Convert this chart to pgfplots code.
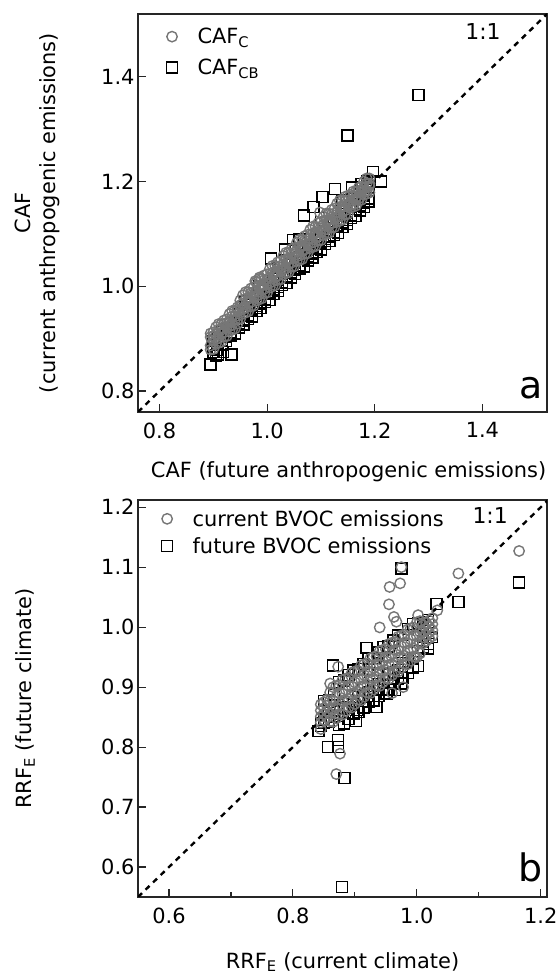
\documentclass[border=0pt]{standalone}
\usepackage{pgfplots}
\usepackage{pgfplotstable}
\pgfplotsset{compat=1.18}
\usepackage{fontspec}
\setmainfont{DejaVu Sans}
\definecolor{circgray}{HTML}{767676}
% panel a, CAF_C (circles): x and four y values per x
\pgfplotstableread[row sep=\\]{
x a b c d\\
0.895 0.879 0.887 0.903 0.910\\
0.900 0.880 0.897 0.905 0.912\\
0.905 0.890 0.899 0.908 0.922\\
0.910 0.892 0.901 0.917 0.928\\
0.915 0.894 0.911 0.917 0.928\\
0.920 0.904 0.912 0.928 0.935\\
0.925 0.905 0.922 0.930 0.937\\
0.930 0.915 0.924 0.933 0.947\\
0.935 0.917 0.926 0.942 0.953\\
0.940 0.919 0.936 0.942 0.953\\
0.945 0.929 0.937 0.953 0.960\\
0.950 0.938 0.955 0.964 0.973\\
0.955 0.948 0.957 0.967 0.983\\
0.960 0.950 0.959 0.976 0.989\\
0.965 0.952 0.969 0.976 0.989\\
0.970 0.962 0.970 0.987 0.996\\
0.975 0.963 0.980 0.989 0.998\\
0.980 0.973 0.982 0.992 1.008\\
0.985 0.975 0.984 1.001 1.014\\
0.990 0.977 0.994 1.001 1.014\\
0.995 0.987 0.995 1.012 1.021\\
1.000 0.988 1.005 1.014 1.023\\
1.005 0.998 1.007 1.017 1.033\\
1.010 1.000 1.009 1.026 1.039\\
1.015 1.002 1.019 1.026 1.039\\
1.020 1.012 1.020 1.037 1.046\\
1.025 1.013 1.030 1.039 1.048\\
1.030 1.023 1.032 1.042 1.058\\
1.035 1.025 1.034 1.051 1.064\\
1.040 1.027 1.044 1.051 1.064\\
1.045 1.037 1.045 1.062 1.071\\
1.050 1.038 1.055 1.064 1.073\\
1.055 1.048 1.057 1.067 1.083\\
1.060 1.050 1.059 1.076 1.089\\
1.065 1.052 1.069 1.076 1.089\\
1.070 1.062 1.070 1.087 1.096\\
1.075 1.063 1.080 1.089 1.098\\
1.080 1.073 1.082 1.092 1.108\\
1.085 1.075 1.084 1.101 1.114\\
1.090 1.077 1.094 1.101 1.114\\
1.095 1.087 1.095 1.112 1.121\\
1.100 1.088 1.105 1.114 1.123\\
1.105 1.098 1.107 1.117 1.133\\
1.110 1.100 1.109 1.126 1.139\\
1.115 1.102 1.119 1.126 1.139\\
1.120 1.112 1.120 1.137 1.146\\
1.125 1.113 1.130 1.139 1.148\\
1.130 1.123 1.132 1.142 1.158\\
1.135 1.125 1.134 1.151 1.164\\
1.140 1.127 1.144 1.151 1.164\\
1.145 1.137 1.145 1.162 1.171\\
1.150 1.138 1.155 1.164 1.173\\
1.155 1.150 1.155 1.162 1.175\\
1.160 1.152 1.157 1.171 1.181\\
1.165 1.154 1.167 1.171 1.181\\
1.170 1.164 1.168 1.182 1.188\\
1.175 1.165 1.178 1.184 1.190\\
1.180 1.175 1.180 1.187 1.200\\
1.185 1.177 1.182 1.196 1.206\\
1.190 1.179 1.192 1.196 1.206\\
}\tabAc
% panel a, CAF_CB (squares)
\pgfplotstableread[row sep=\\]{
x a b c\\
0.900 0.874 0.880 0.896\\
0.908 0.878 0.892 0.901\\
0.916 0.889 0.898 0.914\\
0.924 0.895 0.903 0.919\\
0.932 0.906 0.912 0.928\\
0.940 0.910 0.924 0.933\\
0.948 0.921 0.930 0.946\\
0.956 0.927 0.935 0.951\\
0.964 0.938 0.944 0.960\\
0.972 0.942 0.956 0.965\\
0.980 0.953 0.962 0.978\\
0.988 0.959 0.967 0.983\\
0.996 0.970 0.976 0.992\\
1.004 0.974 0.988 0.997\\
1.012 0.985 0.994 1.010\\
1.020 0.991 0.999 1.015\\
1.028 1.002 1.008 1.024\\
1.036 1.006 1.020 1.029\\
1.044 1.017 1.026 1.042\\
1.052 1.023 1.031 1.047\\
1.060 1.034 1.040 1.056\\
1.068 1.038 1.052 1.061\\
1.076 1.049 1.058 1.074\\
1.084 1.055 1.063 1.079\\
1.092 1.066 1.072 1.088\\
1.100 1.070 1.084 1.093\\
1.108 1.081 1.090 1.106\\
1.116 1.087 1.095 1.111\\
1.124 1.098 1.104 1.120\\
1.132 1.102 1.116 1.125\\
1.140 1.113 1.122 1.138\\
1.148 1.119 1.127 1.143\\
1.156 1.130 1.136 1.152\\
1.164 1.134 1.148 1.157\\
1.172 1.145 1.154 1.170\\
1.180 1.151 1.159 1.175\\
1.188 1.162 1.168 1.184\\
}\tabAs
% panel b, current BVOC emissions (circles)
\pgfplotstableread[row sep=\\]{
x a b c d\\
0.845 0.841 0.851 0.861 0.871\\
0.850 0.845 0.855 0.865 0.875\\
0.855 0.849 0.859 0.869 0.879\\
0.860 0.843 0.856 0.878 0.891\\
0.865 0.842 0.865 0.877 0.900\\
0.870 0.848 0.866 0.884 0.902\\
0.875 0.855 0.868 0.890 0.903\\
0.880 0.854 0.877 0.889 0.912\\
0.885 0.860 0.878 0.896 0.914\\
0.890 0.867 0.880 0.902 0.915\\
0.895 0.866 0.889 0.901 0.924\\
0.900 0.872 0.890 0.908 0.926\\
0.905 0.879 0.892 0.914 0.927\\
0.910 0.878 0.901 0.913 0.936\\
0.915 0.884 0.902 0.920 0.938\\
0.920 0.891 0.904 0.926 0.939\\
0.925 0.890 0.913 0.925 0.948\\
0.930 0.896 0.914 0.932 0.950\\
0.935 0.903 0.916 0.938 0.951\\
0.940 0.902 0.925 0.937 0.960\\
0.945 0.908 0.926 0.944 0.962\\
0.950 0.915 0.928 0.950 0.963\\
0.955 0.914 0.937 0.949 0.972\\
0.960 0.920 0.938 0.956 0.974\\
0.965 0.927 0.940 0.962 0.975\\
0.970 0.926 0.949 0.961 0.984\\
0.975 0.932 0.950 0.968 0.986\\
0.980 0.939 0.952 0.974 0.987\\
0.985 0.938 0.961 0.973 0.996\\
0.990 0.944 0.962 0.980 0.998\\
0.995 0.951 0.964 0.986 0.999\\
1.000 0.950 0.973 0.985 1.008\\
1.005 0.956 0.974 0.992 1.010\\
1.010 0.973 0.983 0.993 1.003\\
1.015 0.977 0.987 0.997 1.007\\
1.020 0.981 0.991 1.001 1.011\\
1.025 0.985 0.995 1.005 1.015\\
}\tabBc
% panel b, future BVOC emissions (squares)
\pgfplotstableread[row sep=\\]{
x a b c\\
0.850 0.841 0.846 0.877\\
0.858 0.842 0.857 0.878\\
0.866 0.851 0.861 0.888\\
0.874 0.837 0.852 0.909\\
0.882 0.839 0.864 0.911\\
0.890 0.847 0.867 0.920\\
0.898 0.856 0.871 0.928\\
0.906 0.858 0.883 0.930\\
0.914 0.866 0.886 0.939\\
0.922 0.876 0.891 0.948\\
0.930 0.877 0.902 0.949\\
0.938 0.885 0.905 0.958\\
0.946 0.895 0.910 0.967\\
0.954 0.896 0.921 0.968\\
0.962 0.905 0.925 0.978\\
0.970 0.914 0.929 0.986\\
0.978 0.915 0.940 0.987\\
0.986 0.924 0.944 0.997\\
0.994 0.933 0.948 1.005\\
1.002 0.935 0.960 1.007\\
1.010 0.966 0.976 1.003\\
1.018 0.972 0.982 1.009\\
}\tabBs
\begin{document}
\begin{tikzpicture}
\useasboundingbox (0,0) rectangle (560bp,980bp);
\pgfplotsset{
  myax/.style={
    scale only axis,
    width=409bp,
    axis line style={line width=1.2bp, black!85},
    tick align=inside,
    tick pos=left,
    major tick length=8bp,
    minor tick length=5bp,
    every tick/.style={line width=1.1bp, black!85},
    tick label style={font=\fontsize{21}{25}\selectfont},
    xticklabel style={yshift=-7bp},
    label style={font=\fontsize{21}{25}\selectfont},
    /pgf/number format/assume math mode=true,
    xticklabel style={/pgf/number format/.cd, fixed, fixed zerofill, precision=1},
    yticklabel style={/pgf/number format/.cd, fixed, fixed zerofill, precision=1},
    legend style={draw=none, fill=none, font=\fontsize{21}{25}\selectfont,
      /tikz/every odd column/.append style={column sep=18bp}},
    legend cell align=left,
    circ/.style={only marks, mark=o, mark size=5.2bp, draw=circgray, mark options={line width=1.4bp}},
    sq/.style={only marks, mark=square, mark size=5.5bp, draw=black, mark options={line width=1.4bp}},
  }
}
% ---------------- panel a ----------------
\begin{axis}[myax,
  at={(138bp,568bp)}, anchor=south west,
  height=398bp,
  xmin=0.76, xmax=1.52, ymin=0.76, ymax=1.52,
  xtick={0.8,1.0,1.2,1.4}, ytick={0.8,1.0,1.2,1.4},
  xlabel={CAF (future anthropogenic emissions)},
  xlabel style={at={(axis description cs:0.515,-0.151)}, anchor=center},
  ylabel={CAF\\(current anthropogenic emissions)},
  ylabel style={at={(axis description cs:-0.247,0.5)}, anchor=center, align=center},
  legend style={at={(axis description cs:0.062,0.975)}, anchor=north west, row sep=10bp},
]
\addlegendimage{circ}
\addlegendentry{CAF\textsubscript{C}}
\addlegendimage{sq}
\addlegendentry{CAF\textsubscript{CB}}
\addplot[sq, forget plot] table[x=x, y=a] {\tabAs};
\addplot[sq, forget plot] table[x=x, y=b] {\tabAs};
\addplot[sq, forget plot] table[x=x, y=c] {\tabAs};
\addplot[sq, forget plot] coordinates {
(0.895,0.851)(0.909,0.870)(0.934,0.870)(0.918,0.875)(0.905,0.868)(0.960,0.972)(1.007,1.053)(1.033,1.070)
(1.048,1.088)(1.068,1.135)(1.086,1.151)(1.103,1.170)(1.126,1.186)(1.158,1.189)(1.185,1.200)(1.197,1.218)
(1.212,1.200)(1.190,1.200)(1.175,1.195)(1.149,1.288)(1.281,1.365)(0.985,1.000)(1.020,1.035)(1.060,1.090)
(1.100,1.130)(1.140,1.165)
};
\addplot[circ, forget plot] table[x=x, y=a] {\tabAc};
\addplot[circ, forget plot] table[x=x, y=b] {\tabAc};
\addplot[circ, forget plot] table[x=x, y=c] {\tabAc};
\addplot[circ, forget plot] table[x=x, y=d] {\tabAc};
\addplot[circ, forget plot] coordinates {(1.098,1.141)(0.986,1.017)(0.978,1.010)};
\addplot[black, line width=2.4bp, dash pattern=on 5.5bp off 5bp, forget plot] coordinates {(0.76,0.76) (1.52,1.52)};
\node[font=\fontsize{22}{26}\selectfont, anchor=center] at (rel axis cs:0.8435,0.955) {1:1};
\node[font=\fontsize{38}{44}\selectfont, anchor=base east, inner sep=0pt] at (rel axis cs:0.99,0.035) {a};
\end{axis}
% ---------------- panel b ----------------
\begin{axis}[myax,
  at={(138bp,83bp)}, anchor=south west,
  height=397bp,
  xmin=0.55, xmax=1.21, ymin=0.55, ymax=1.212,
  xtick={0.6,0.8,1.0,1.2}, minor xtick={0.7,0.9,1.1},
  ytick={0.6,0.7,0.8,0.9,1.0,1.1,1.2},
  xlabel={RRF\textsubscript{E} (current climate)},
  xlabel style={at={(axis description cs:0.5,-0.164)}, anchor=center},
  ylabel={RRF\textsubscript{E} (future climate)},
  ylabel style={at={(axis description cs:-0.276,0.5)}, anchor=center},
  legend style={at={(axis description cs:0.050,0.985)}, anchor=north west, row sep=6bp},
]
\addlegendimage{circ}
\addlegendentry{current BVOC emissions}
\addlegendimage{sq}
\addlegendentry{future BVOC emissions}
\addplot[sq, forget plot] table[x=x, y=a] {\tabBs};
\addplot[sq, forget plot] table[x=x, y=b] {\tabBs};
\addplot[sq, forget plot] table[x=x, y=c] {\tabBs};
\addplot[sq, forget plot] coordinates {
(0.841,0.827)(0.845,0.835)(0.845,0.840)(0.857,0.8005)(0.873,0.812)(0.873,0.8005)(0.883,0.748)(0.879,0.567)
(0.902,0.843)(0.865,0.936)(0.919,0.965)(0.975,1.098)(1.018,1.012)(1.032,1.039)(1.067,1.042)(1.165,1.0745)
(0.975,0.917)(0.975,0.906)(0.951,0.8895)(0.965,0.895)(0.930,0.878)(0.935,0.867)(0.903,0.862)(1.018,0.9645)
(1.024,0.984)
};
\addplot[circ, forget plot] table[x=x, y=a] {\tabBc};
\addplot[circ, forget plot] table[x=x, y=b] {\tabBc};
\addplot[circ, forget plot] table[x=x, y=c] {\tabBc};
\addplot[circ, forget plot] table[x=x, y=d] {\tabBc};
\addplot[circ, forget plot] coordinates {
(1.165,1.127)(1.067,1.0895)(1.033,1.028)(0.975,1.100)(0.973,1.073)(0.956,1.067)(0.955,1.038)(0.963,1.017)
(0.967,1.009)(0.940,0.9995)(1.002,1.020)(0.876,0.789)(0.870,0.755)(0.845,0.830)(0.997,0.9505)(0.978,0.900)
(0.960,0.890)(0.873,0.934)(0.860,0.906)
};
\addplot[black, line width=2.4bp, dash pattern=on 5.5bp off 5bp, forget plot] coordinates {(0.55,0.55) (1.212,1.212)};
\node[font=\fontsize{22}{26}\selectfont, anchor=center] at (rel axis cs:0.861,0.962) {1:1};
\node[font=\fontsize{38}{44}\selectfont, anchor=base east, inner sep=0pt] at (rel axis cs:0.99,0.038) {b};
\end{axis}
\end{tikzpicture}
\end{document}
